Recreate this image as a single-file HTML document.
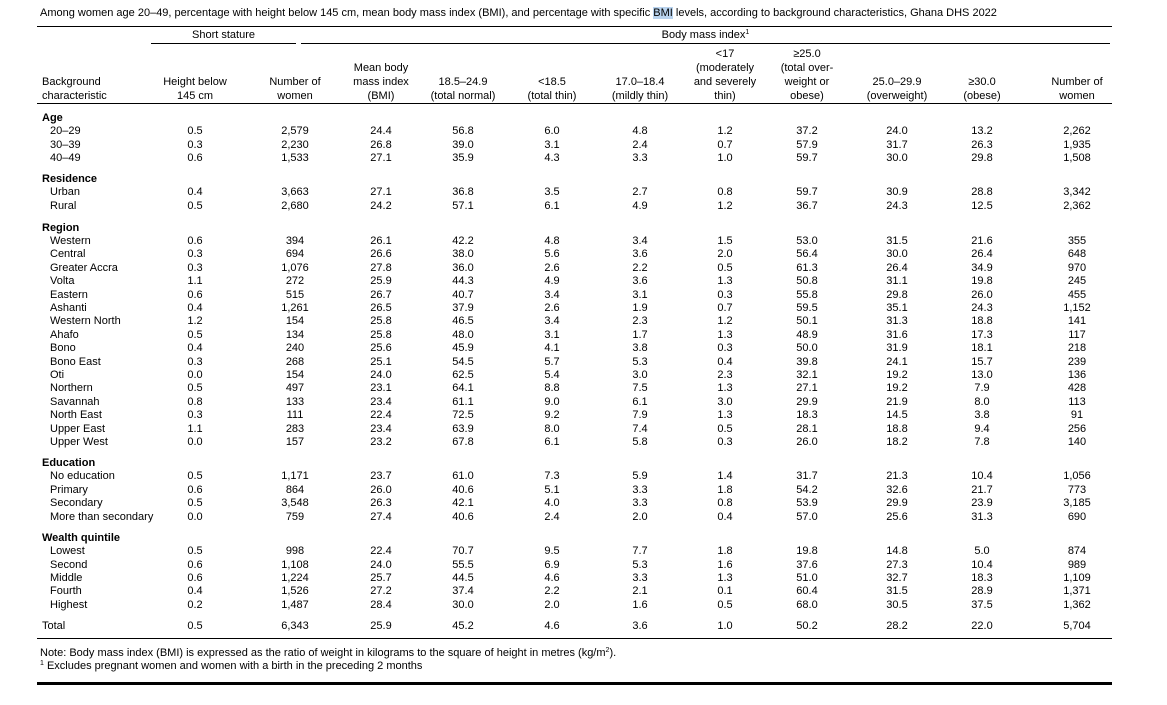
<!DOCTYPE html>
<html><head><meta charset="utf-8"><style>
body{margin:0;width:1167px;height:705px;background:#fff;position:relative;font-family:"Liberation Sans",Arial,sans-serif;font-size:11px;color:#000;overflow:hidden}
.a{position:absolute;white-space:nowrap}
sup{font-size:7px;line-height:0;vertical-align:4px}
.h{position:absolute;bottom:602px;text-align:center;line-height:14px;width:100px}
.ln{position:absolute;background:#000;height:1px}
.r{position:absolute;left:0;width:1167px;height:13px;line-height:13px;margin-top:2px}
.r span{position:absolute;width:60px;text-align:center}
.r span:nth-child(1){left:42px;width:auto;text-align:left;padding-left:8px}
.r span:nth-child(2){left:165px}.r span:nth-child(3){left:265px}.r span:nth-child(4){left:351px}
.r span:nth-child(5){left:433px}.r span:nth-child(6){left:522px}.r span:nth-child(7){left:610px}
.r span:nth-child(8){left:695px}.r span:nth-child(9){left:777px}.r span:nth-child(10){left:867px}
.r span:nth-child(11){left:952px}.r span:nth-child(12){left:1047px}
.g{position:absolute;left:42px;font-weight:bold;line-height:13px;margin-top:2px}
</style></head><body>
<div class="a" style="left:40px;top:7px">Among women age 20–49, percentage with height below 145 cm, mean body mass index (BMI), and percentage with specific <span style="background:#b9d3ee">BMI</span> levels, according to background characteristics, Ghana DHS 2022</div>
<div class="ln" style="left:37px;top:26px;width:1075px"></div>
<div class="a" style="left:151px;width:145px;text-align:center;top:29px">Short stature</div>
<div class="a" style="left:301px;width:809px;text-align:center;top:29px">Body mass index<sup>1</sup></div>
<div class="ln" style="left:151px;top:43px;width:145px"></div>
<div class="ln" style="left:301px;top:43px;width:809px"></div>
<div class="h" style="left:42px;text-align:left">Background<br>characteristic</div>
<div class="h" style="left:145px">Height below<br>145 cm</div>
<div class="h" style="left:245px">Number of<br>women</div>
<div class="h" style="left:331px">Mean body<br>mass index<br>(BMI)</div>
<div class="h" style="left:413px">18.5–24.9<br>(total normal)</div>
<div class="h" style="left:502px">&lt;18.5<br>(total thin)</div>
<div class="h" style="left:590px">17.0–18.4<br>(mildly thin)</div>
<div class="h" style="left:675px">&lt;17<br>(moderately<br>and severely<br>thin)</div>
<div class="h" style="left:757px">≥25.0<br>(total over-<br>weight or<br>obese)</div>
<div class="h" style="left:847px">25.0–29.9<br>(overweight)</div>
<div class="h" style="left:932px">≥30.0<br>(obese)</div>
<div class="h" style="left:1027px">Number of<br>women</div>
<div class="ln" style="left:37px;top:103px;width:1075px"></div>

<div class="g" style="top:110px">Age</div>
<div class="r" style="top:123px"><span>20–29</span><span>0.5</span><span>2,579</span><span>24.4</span><span>56.8</span><span>6.0</span><span>4.8</span><span>1.2</span><span>37.2</span><span>24.0</span><span>13.2</span><span>2,262</span></div>
<div class="r" style="top:137px"><span>30–39</span><span>0.3</span><span>2,230</span><span>26.8</span><span>39.0</span><span>3.1</span><span>2.4</span><span>0.7</span><span>57.9</span><span>31.7</span><span>26.3</span><span>1,935</span></div>
<div class="r" style="top:150px"><span>40–49</span><span>0.6</span><span>1,533</span><span>27.1</span><span>35.9</span><span>4.3</span><span>3.3</span><span>1.0</span><span>59.7</span><span>30.0</span><span>29.8</span><span>1,508</span></div>

<div class="g" style="top:171px">Residence</div>
<div class="r" style="top:184px"><span>Urban</span><span>0.4</span><span>3,663</span><span>27.1</span><span>36.8</span><span>3.5</span><span>2.7</span><span>0.8</span><span>59.7</span><span>30.9</span><span>28.8</span><span>3,342</span></div>
<div class="r" style="top:198px"><span>Rural</span><span>0.5</span><span>2,680</span><span>24.2</span><span>57.1</span><span>6.1</span><span>4.9</span><span>1.2</span><span>36.7</span><span>24.3</span><span>12.5</span><span>2,362</span></div>

<div class="g" style="top:220px">Region</div>
<div class="r" style="top:233px"><span>Western</span><span>0.6</span><span>394</span><span>26.1</span><span>42.2</span><span>4.8</span><span>3.4</span><span>1.5</span><span>53.0</span><span>31.5</span><span>21.6</span><span>355</span></div>
<div class="r" style="top:246.4px"><span>Central</span><span>0.3</span><span>694</span><span>26.6</span><span>38.0</span><span>5.6</span><span>3.6</span><span>2.0</span><span>56.4</span><span>30.0</span><span>26.4</span><span>648</span></div>
<div class="r" style="top:259.8px"><span>Greater Accra</span><span>0.3</span><span>1,076</span><span>27.8</span><span>36.0</span><span>2.6</span><span>2.2</span><span>0.5</span><span>61.3</span><span>26.4</span><span>34.9</span><span>970</span></div>
<div class="r" style="top:273.2px"><span>Volta</span><span>1.1</span><span>272</span><span>25.9</span><span>44.3</span><span>4.9</span><span>3.6</span><span>1.3</span><span>50.8</span><span>31.1</span><span>19.8</span><span>245</span></div>
<div class="r" style="top:286.6px"><span>Eastern</span><span>0.6</span><span>515</span><span>26.7</span><span>40.7</span><span>3.4</span><span>3.1</span><span>0.3</span><span>55.8</span><span>29.8</span><span>26.0</span><span>455</span></div>
<div class="r" style="top:300px"><span>Ashanti</span><span>0.4</span><span>1,261</span><span>26.5</span><span>37.9</span><span>2.6</span><span>1.9</span><span>0.7</span><span>59.5</span><span>35.1</span><span>24.3</span><span>1,152</span></div>
<div class="r" style="top:313.4px"><span>Western North</span><span>1.2</span><span>154</span><span>25.8</span><span>46.5</span><span>3.4</span><span>2.3</span><span>1.2</span><span>50.1</span><span>31.3</span><span>18.8</span><span>141</span></div>
<div class="r" style="top:326.8px"><span>Ahafo</span><span>0.5</span><span>134</span><span>25.8</span><span>48.0</span><span>3.1</span><span>1.7</span><span>1.3</span><span>48.9</span><span>31.6</span><span>17.3</span><span>117</span></div>
<div class="r" style="top:340.2px"><span>Bono</span><span>0.4</span><span>240</span><span>25.6</span><span>45.9</span><span>4.1</span><span>3.8</span><span>0.3</span><span>50.0</span><span>31.9</span><span>18.1</span><span>218</span></div>
<div class="r" style="top:353.6px"><span>Bono East</span><span>0.3</span><span>268</span><span>25.1</span><span>54.5</span><span>5.7</span><span>5.3</span><span>0.4</span><span>39.8</span><span>24.1</span><span>15.7</span><span>239</span></div>
<div class="r" style="top:367px"><span>Oti</span><span>0.0</span><span>154</span><span>24.0</span><span>62.5</span><span>5.4</span><span>3.0</span><span>2.3</span><span>32.1</span><span>19.2</span><span>13.0</span><span>136</span></div>
<div class="r" style="top:380.4px"><span>Northern</span><span>0.5</span><span>497</span><span>23.1</span><span>64.1</span><span>8.8</span><span>7.5</span><span>1.3</span><span>27.1</span><span>19.2</span><span>7.9</span><span>428</span></div>
<div class="r" style="top:393.8px"><span>Savannah</span><span>0.8</span><span>133</span><span>23.4</span><span>61.1</span><span>9.0</span><span>6.1</span><span>3.0</span><span>29.9</span><span>21.9</span><span>8.0</span><span>113</span></div>
<div class="r" style="top:407.2px"><span>North East</span><span>0.3</span><span>111</span><span>22.4</span><span>72.5</span><span>9.2</span><span>7.9</span><span>1.3</span><span>18.3</span><span>14.5</span><span>3.8</span><span>91</span></div>
<div class="r" style="top:420.6px"><span>Upper East</span><span>1.1</span><span>283</span><span>23.4</span><span>63.9</span><span>8.0</span><span>7.4</span><span>0.5</span><span>28.1</span><span>18.8</span><span>9.4</span><span>256</span></div>
<div class="r" style="top:434px"><span>Upper West</span><span>0.0</span><span>157</span><span>23.2</span><span>67.8</span><span>6.1</span><span>5.8</span><span>0.3</span><span>26.0</span><span>18.2</span><span>7.8</span><span>140</span></div>

<div class="g" style="top:455px">Education</div>
<div class="r" style="top:468px"><span>No education</span><span>0.5</span><span>1,171</span><span>23.7</span><span>61.0</span><span>7.3</span><span>5.9</span><span>1.4</span><span>31.7</span><span>21.3</span><span>10.4</span><span>1,056</span></div>
<div class="r" style="top:482px"><span>Primary</span><span>0.6</span><span>864</span><span>26.0</span><span>40.6</span><span>5.1</span><span>3.3</span><span>1.8</span><span>54.2</span><span>32.6</span><span>21.7</span><span>773</span></div>
<div class="r" style="top:495px"><span>Secondary</span><span>0.5</span><span>3,548</span><span>26.3</span><span>42.1</span><span>4.0</span><span>3.3</span><span>0.8</span><span>53.9</span><span>29.9</span><span>23.9</span><span>3,185</span></div>
<div class="r" style="top:509px"><span>More than secondary</span><span>0.0</span><span>759</span><span>27.4</span><span>40.6</span><span>2.4</span><span>2.0</span><span>0.4</span><span>57.0</span><span>25.6</span><span>31.3</span><span>690</span></div>

<div class="g" style="top:530px">Wealth quintile</div>
<div class="r" style="top:543px"><span>Lowest</span><span>0.5</span><span>998</span><span>22.4</span><span>70.7</span><span>9.5</span><span>7.7</span><span>1.8</span><span>19.8</span><span>14.8</span><span>5.0</span><span>874</span></div>
<div class="r" style="top:557px"><span>Second</span><span>0.6</span><span>1,108</span><span>24.0</span><span>55.5</span><span>6.9</span><span>5.3</span><span>1.6</span><span>37.6</span><span>27.3</span><span>10.4</span><span>989</span></div>
<div class="r" style="top:570px"><span>Middle</span><span>0.6</span><span>1,224</span><span>25.7</span><span>44.5</span><span>4.6</span><span>3.3</span><span>1.3</span><span>51.0</span><span>32.7</span><span>18.3</span><span>1,109</span></div>
<div class="r" style="top:583px"><span>Fourth</span><span>0.4</span><span>1,526</span><span>27.2</span><span>37.4</span><span>2.2</span><span>2.1</span><span>0.1</span><span>60.4</span><span>31.5</span><span>28.9</span><span>1,371</span></div>
<div class="r" style="top:597px"><span>Highest</span><span>0.2</span><span>1,487</span><span>28.4</span><span>30.0</span><span>2.0</span><span>1.6</span><span>0.5</span><span>68.0</span><span>30.5</span><span>37.5</span><span>1,362</span></div>

<div class="r" style="top:618px"><span style="padding-left:0">Total</span><span>0.5</span><span>6,343</span><span>25.9</span><span>45.2</span><span>4.6</span><span>3.6</span><span>1.0</span><span>50.2</span><span>28.2</span><span>22.0</span><span>5,704</span></div>

<div class="ln" style="left:37px;top:638px;width:1075px"></div>
<div class="a" style="left:40px;top:647px;line-height:13px">Note: Body mass index (BMI) is expressed as the ratio of weight in kilograms to the square of height in metres (kg/m<sup>2</sup>).<br><sup>1</sup> Excludes pregnant women and women with a birth in the preceding 2 months</div>
<div class="ln" style="left:37px;top:682px;width:1075px;height:3px"></div>
</body></html>
